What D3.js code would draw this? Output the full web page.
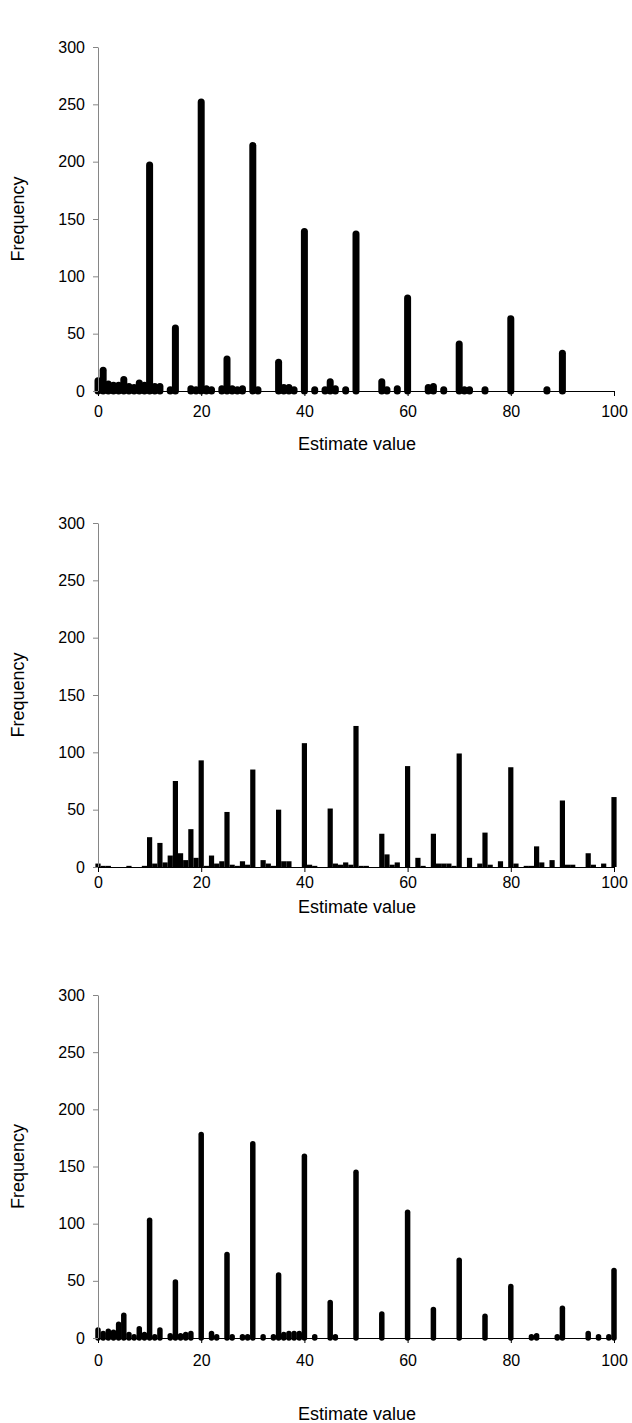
<!DOCTYPE html>
<html>
<head>
<meta charset="utf-8">
<script src="https://cdn.jsdelivr.net/npm/d3@7"></script>
<style>
  body { margin: 0; background: #fff; }
  svg { display: block; }
  text { font-family: "Liberation Sans", Arial, sans-serif; fill: #000; }
</style>
</head>
<body>
<svg width="632" height="1423"></svg>
<script>
// estimate value -> frequency, one pair of arrays per panel
var est1 = [0,1,2,3,4,5,6,7,8,9,10,11,12,14,15,18,19,20,21,22,24,25,26,27,28,30,31,35,36,37,38,40,42,44,45,46,48,50,55,56,58,60,64,65,67,70,71,72,75,80,87,90];
var freq1 = [9,18,6,5,5,10,4,3,7,5,197,4,4,1,55,2,1,252,2,1,2,28,2,1,2,214,1,25,3,3,1,139,1,1,8,2,1,137,8,1,2,81,3,4,1,41,1,1,1,63,1,33];

var est2 = [0,1,2,6,9,10,11,12,13,14,15,16,17,18,19,20,21,22,23,24,25,26,27,28,29,30,32,33,34,35,36,37,40,41,42,45,46,47,48,49,50,51,52,55,56,57,58,60,62,63,65,66,67,68,69,70,72,74,75,76,78,80,81,83,84,85,86,88,90,91,92,95,96,98,100];
var freq2 = [3,1,1,1,1,26,3,21,4,10,75,12,6,33,8,93,1,10,3,5,48,2,1,5,2,85,6,3,1,50,5,5,108,2,1,51,3,2,4,2,123,1,1,29,11,2,4,88,8,1,29,3,3,3,1,99,8,3,30,2,5,87,3,1,1,18,4,6,58,2,2,12,2,3,61];

var est3 = [0,1,2,3,4,5,6,7,8,9,10,11,12,14,15,16,17,18,20,22,23,25,26,28,29,30,32,34,35,36,37,38,39,40,42,45,46,50,55,60,65,70,75,80,84,85,89,90,95,97,99,100];
var freq3 = [7,4,6,5,12,20,3,1,8,3,103,1,7,2,49,2,3,4,178,4,1,73,1,1,1,170,1,1,55,3,4,4,4,159,1,31,1,145,21,110,25,68,19,45,1,2,1,26,4,1,1,59];

var xTicks = [0,20,40,60,80,100];
var yTicks = [0,50,100,150,200,250,300];

var svg = d3.select("svg");

var panels = [
  {est: est1, freq: freq1, top: 47, bottom: 391, tickY: 15, label: 450, mark: "round", w: 7},
  {est: est2, freq: freq2, top: 523, bottom: 867, tickY: 10, label: 913, mark: "rect", w: 5.2},
  {est: est3, freq: freq3, top: 995, bottom: 1338, tickY: 17, label: 1420, mark: "round", w: 5.5}
];

panels.forEach(drawPanel);

function drawPanel(p) {
  var x = d3.scaleLinear().domain([0, 100]).range([98, 614]);
  var y = d3.scaleLinear().domain([0, 300]).range([p.bottom, p.top]);
  var g = svg.append("g");
  var data = p.est.map(function(e, i) { return {e: e, f: p.freq[i]}; });

  if (p.mark == "rect") {
    g.selectAll("rect").data(data).enter().append("rect")
        .attr("x", function(d) { return x(d.e) - p.w / 2; })
        .attr("y", function(d) { return y(d.f); })
        .attr("width", p.w)
        .attr("height", function(d) { return y(0) - y(d.f); })
        .attr("fill", "#000");
  } else {
    g.selectAll("line.bar").data(data).enter().append("line")
        .attr("class", "bar")
        .attr("x1", function(d) { return x(d.e); })
        .attr("x2", function(d) { return x(d.e); })
        .attr("y1", y(0))
        .attr("y2", function(d) { return y(d.f); })
        .attr("stroke", "#000")
        .attr("stroke-width", p.w)
        .attr("stroke-linecap", "round");
  }

  var ya = g.append("g")
      .attr("transform", "translate(98,0)")
      .call(d3.axisLeft(y).tickValues(yTicks).tickSize(5).tickSizeOuter(0));
  ya.select(".domain").attr("stroke", "#868686");
  ya.selectAll(".tick line").attr("stroke", "#868686");

  var xa = g.append("g")
      .attr("transform", "translate(0," + p.bottom + ")")
      .call(d3.axisBottom(x).tickValues(xTicks).tickSize(5).tickSizeOuter(0));
  xa.select(".domain").attr("stroke", "#000");

  g.selectAll(".tick text")
      .style("font-family", "'Liberation Sans', Arial, sans-serif")
      .style("font-size", "16px");
  ya.selectAll(".tick text").attr("x", -13);
  xa.selectAll(".tick text").attr("y", p.tickY);

  g.append("text")
      .attr("transform", "translate(24," + (p.top + p.bottom) / 2 + ") rotate(-90)")
      .attr("text-anchor", "middle")
      .style("font-size", "18px")
      .text("Frequency");

  g.append("text")
      .attr("x", 357)
      .attr("y", p.label)
      .attr("text-anchor", "middle")
      .style("font-size", "18px")
      .text("Estimate value");
}
</script>
</body>
</html>
